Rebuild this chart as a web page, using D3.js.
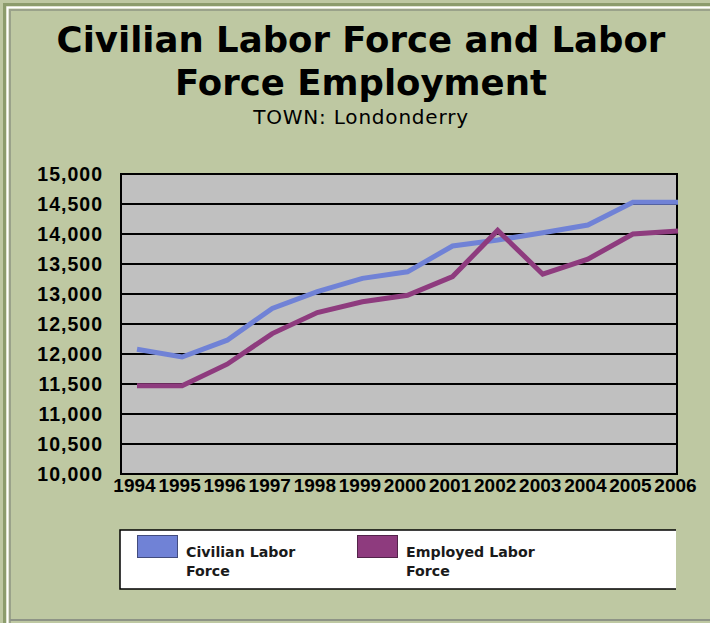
<!DOCTYPE html>
<html>
<head>
<meta charset="utf-8">
<script src="https://cdn.jsdelivr.net/npm/d3@7"></script>
<style>
  body { margin: 0; background: #bec8a2; }
  svg { display: block; }
</style>
</head>
<body>
<div id="chart"></div>
<script>
// data
var years = ["1994", "1995", "1996", "1997", "1998", "1999", "2000", "2001", "2002", "2003", "2004", "2005", "2006"];
var civilianLabor = [12080, 11950, 12230, 12760, 13040, 13260, 13370, 13800, 13900, 14020, 14150, 14530, 14530];
var employedLabor = [11470, 11470, 11830, 12340, 12690, 12870, 12980, 13290, 14060, 13330, 13580, 14000, 14050];
var yTicks = [10000, 10500, 11000, 11500, 12000, 12500, 13000, 13500, 14000, 14500, 15000];

var seriesNames = ["Civilian Labor Force", "Employed Labor Force"];
var seriesColors = ["#7082d6", "#8e3b7e"];

function drawChart(tag) {
  var W = 710, H = 623;

  var svg = d3.select('#' + tag)
    .append("svg")
      .attr("width", W)
      .attr("height", H);

  // frame
  svg.append("rect").attr("x", 0).attr("y", 0).attr("width", W).attr("height", H)
    .attr("fill", "#bec8a2");
  svg.append("path").attr("d", "M4.5," + H + "V4.5H" + W)
    .attr("fill", "none").attr("stroke", "#8c9c6c").attr("stroke-width", 3);
  svg.append("path").attr("d", "M7.5," + H + "V7.5H" + W)
    .attr("fill", "none").attr("stroke", "#ffffff").attr("stroke-width", 2);
  svg.append("path").attr("d", "M10," + H + "V10H" + W)
    .attr("fill", "none").attr("stroke", "#9aa28a").attr("stroke-width", 2);
  svg.append("line").attr("x1", 10).attr("x2", W).attr("y1", 620).attr("y2", 620)
    .attr("stroke", "#8e9486").attr("stroke-width", 2);

  // titles
  var titleFont = "'DejaVu Sans', Verdana, sans-serif";
  svg.append("text").attr("x", 361).attr("y", 52)
    .attr("text-anchor", "middle").attr("font-family", titleFont)
    .attr("font-weight", "bold").attr("font-size", 35.5)
    .text("Civilian Labor Force and Labor");
  svg.append("text").attr("x", 361).attr("y", 95)
    .attr("text-anchor", "middle").attr("font-family", titleFont)
    .attr("font-weight", "bold").attr("font-size", 35.5)
    .text("Force Employment");
  svg.append("text").attr("x", 361).attr("y", 124)
    .attr("text-anchor", "middle").attr("font-family", titleFont)
    .attr("font-size", 20).attr("letter-spacing", 0.8)
    .text("TOWN: Londonderry");

  // plot area
  var plot = {left: 121, right: 677, top: 174, bottom: 474};

  var xscale = d3.scalePoint()
    .domain(years)
    .range([137, 678]);

  var yscale = d3.scaleLinear()
    .domain([10000, 15000])
    .range([plot.bottom, plot.top]);

  svg.append("rect")
    .attr("x", plot.left).attr("y", plot.top)
    .attr("width", plot.right - plot.left).attr("height", plot.bottom - plot.top)
    .attr("fill", "#c0c0c0");

  // gridlines + y labels
  var yAxis = svg.append("g")
    .attr("transform", "translate(" + plot.left + ",0)")
    .call(d3.axisLeft(yscale).tickValues(yTicks).tickSize(0).tickPadding(18)
      .tickFormat(d3.format(",")));
  yAxis.select(".domain").remove();
  yAxis.selectAll("text")
    .attr("font-family", "'Liberation Sans', Arial, sans-serif")
    .attr("font-weight", "bold").attr("font-size", 19.5)
    .attr("letter-spacing", 1).attr("fill", "#000");

  svg.append("g").selectAll("line")
    .data(yTicks)
    .join("line")
      .attr("x1", plot.left).attr("x2", plot.right)
      .attr("y1", d => yscale(d)).attr("y2", d => yscale(d))
      .attr("stroke", "#000").attr("stroke-width", 2);

  svg.append("rect")
    .attr("x", plot.left).attr("y", plot.top)
    .attr("width", plot.right - plot.left).attr("height", plot.bottom - plot.top)
    .attr("fill", "none").attr("stroke", "#000").attr("stroke-width", 2);

  // x labels
  var xAxis = svg.append("g")
    .attr("transform", "translate(0," + plot.bottom + ")")
    .call(d3.axisBottom(xscale).tickSize(0).tickPadding(5));
  xAxis.select(".domain").remove();
  xAxis.selectAll("text")
    .attr("dx", -3)
    .attr("font-family", "'Liberation Sans', Arial, sans-serif")
    .attr("font-weight", "bold").attr("font-size", 19).attr("fill", "#000");

  // lines
  var line = d3.line()
    .x((d, i) => xscale(years[i]))
    .y(d => yscale(d));

  [civilianLabor, employedLabor].forEach(function(vals, k) {
    svg.append("path")
      .datum(vals)
      .attr("fill", "none")
      .attr("stroke", seriesColors[k])
      .attr("stroke-width", 5)
      .attr("d", line);
  });

  // legend
  var lg = {left: 120, right: 676, top: 530, bottom: 589};
  svg.append("rect")
    .attr("x", lg.left).attr("y", lg.top)
    .attr("width", lg.right - lg.left).attr("height", lg.bottom - lg.top)
    .attr("fill", "#fff");
  svg.append("path")
    .attr("d", "M" + lg.right + "," + lg.top + "H" + lg.left + "V" + lg.bottom + "H" + lg.right)
    .attr("fill", "none").attr("stroke", "#000").attr("stroke-width", 1.5);

  var legendX = [137, 357];
  seriesNames.forEach(function(name, k) {
    var g = svg.append("g").attr("transform", "translate(" + legendX[k] + ",535)");
    g.append("rect").attr("x", 0.5).attr("y", 0.5).attr("width", 40).attr("height", 22)
      .attr("fill", seriesColors[k]).attr("stroke", d3.color(seriesColors[k]).darker(1.5))
      .attr("stroke-width", 1);
    var words = name.split(" ");
    var t = g.append("text")
      .attr("font-family", "'DejaVu Sans', Verdana, sans-serif")
      .attr("font-weight", "bold").attr("font-size", 14.2).attr("fill", "#1a1a1a");
    t.append("tspan").attr("x", 49).attr("y", 22).text(words.slice(0, 2).join(" "));
    t.append("tspan").attr("x", 49).attr("y", 41).text(words.slice(2).join(" "));
  });
}

drawChart("chart");
</script>
</body>
</html>
